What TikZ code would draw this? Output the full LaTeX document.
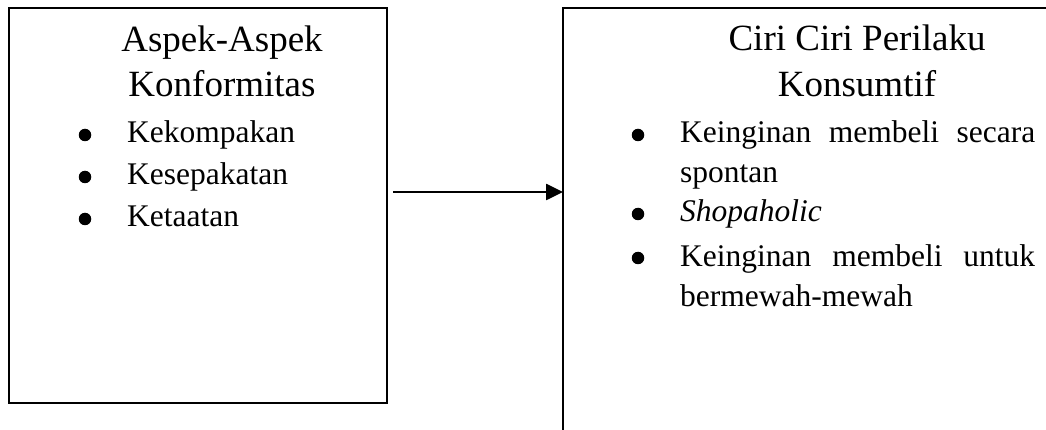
\documentclass[tikz,border=0pt]{standalone}
\usepackage{fontspec}
\setmainfont{Liberation Serif}
\usetikzlibrary{arrows.meta,positioning}

\hyphenpenalty=10000
\tolerance=10000

\tikzset{
  box/.style={draw, line width=1.8pt, inner sep=0pt, outer sep=0pt},
  head/.style={font=\fontsize{37}{45}\selectfont, inner sep=0pt, anchor=base},
  item/.style={font=\fontsize{31.5}{40}\selectfont, inner sep=0pt, anchor=base west},
  dot/.style={circle, fill=black, inner sep=0pt, minimum size=12.5pt}
}

\begin{document}
\begin{tikzpicture}[x=1pt, y=-1pt]
    \useasboundingbox (0,0) rectangle (1046,430);
    \clip (0,0) rectangle (1046,430);

    % kotak
    \node[box, minimum width=378pt, minimum height=395pt] (lbox) at (198,205.5) {};
    \node[box, minimum width=517pt, minimum height=462pt] (rbox) at (821.5,239) {};

    % judul
    \node[head] (lhead1) at (222,52) {Aspek-Aspek};
    \node[head] (lhead2) at (222,97) {Konformitas};
    \node[head] (rhead1) at (857,51) {Ciri Ciri Perilaku};
    \node[head] (rhead2) at (857,97) {Konsumtif};

    % butir kiri
    \node[dot] (lb1) at (85,135) {};
    \node[dot] (lb2) at (85,177) {};
    \node[dot] (lb3) at (85,219) {};
    \node[item] (li1) at (127,143) {Kekompakan};
    \node[item] (li2) at (127,185) {Kesepakatan};
    \node[item] (li3) at (127,227) {Ketaatan};

    % butir kanan
    \node[dot] (rb1) at (638,135) {};
    \node[dot] (rb2) at (638,214) {};
    \node[dot] (rb3) at (638,258) {};
    \node[item, text width=355pt, align=justify] (ri1) at (680,143) {Keinginan membeli secara spontan};
    \node[item] (ri2) at (680,222) {\itshape Shopaholic};
    \node[item, text width=355pt, align=justify] (ri3) at (680,266) {Keinginan membeli untuk bermewah-mewah};

    % panah
    \coordinate (astart) at (393,192);
    \draw[line width=2.6pt, -{Triangle[length=17pt, width=16pt]}] (astart) -- (astart -| rbox.west);
\end{tikzpicture}
\end{document}
